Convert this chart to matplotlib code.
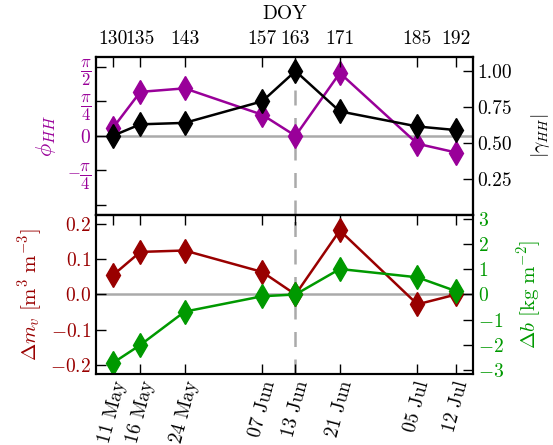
import matplotlib
matplotlib.use('Agg')
import matplotlib.pyplot as plt
import numpy as np

plt.rcParams['font.family'] = 'serif'
plt.rcParams['font.serif'] = ['cmr10', 'DejaVu Serif']
plt.rcParams['mathtext.fontset'] = 'cm'
plt.rcParams['axes.formatter.use_mathtext'] = True
plt.rcParams['font.size'] = 14

# data
doy = [130, 135, 143, 157, 163, 171, 185, 192]
dates = ['11 May', '16 May', '24 May', '07 Jun', '13 Jun', '21 Jun', '05 Jul', '12 Jul']
phi_hh = [0.17, 1.00, 1.08, 0.48, 0.0, 1.43, -0.18, -0.38]
gamma_hh = [0.55, 0.63, 0.64, 0.79, 1.00, 0.72, 0.615, 0.59]
dmv = [0.054, 0.121, 0.125, 0.064, 0.0, 0.182, -0.028, 0.0]
db = [-2.72, -2.0, -0.68, -0.07, 0.0, 1.01, 0.68, 0.13]
ref_doy = 163

c_phi = '#990099'
c_gam = 'black'
c_mv = '#990000'
c_b = '#009900'
c_grey = '#aaaaaa'

fig = plt.figure(figsize=(5.53, 4.45), dpi=100)
ax1 = fig.add_axes([0.1736, 0.5169, 0.855 - 0.1736, 0.8726 - 0.5169])
ax2 = fig.add_axes([0.1736, 0.1596, 0.855 - 0.1736, 0.5169 - 0.1596], sharex=ax1)

tick_kw = dict(direction='in', length=7, width=1.0)
lw = 1.8
mk = dict(marker='d', ms=12.5, markeredgewidth=1)

# top panel
ax1.axhline(0, color=c_grey, lw=1.8, zorder=1)
ax1.axvline(ref_doy, color=c_grey, lw=1.8, ls=(0, (6, 5)), zorder=1)
ax1.plot(doy, phi_hh, color=c_phi, lw=lw, **mk)
ax1.set_ylim(-1.8, 1.8)
ax1.set_yticks([-np.pi / 2, -np.pi / 4, 0, np.pi / 4, np.pi / 2])
ax1.set_yticklabels(['', r'$-\dfrac{\pi}{4}$', r'$0$', r'$\dfrac{\pi}{4}$', r'$\dfrac{\pi}{2}$'])
for t in ax1.get_yticklabels():
    if 'pi' in t.get_text():
        t.set_fontsize(12)
ax1.set_ylabel(r'$\phi_{HH}$', color=c_phi, fontsize=16, labelpad=6)
ax1.tick_params(axis='y', colors='black', labelcolor=c_phi, **tick_kw)
ax1.tick_params(axis='x', bottom=False, labelbottom=False, top=False)

ax1r = ax1.twinx()
ax1r.plot(doy, gamma_hh, color=c_gam, lw=lw, **mk)
ax1r.set_ylim(0, 1.1)
ax1r.set_yticks([0.25, 0.5, 0.75, 1.0])
ax1r.set_yticklabels(['0.25', '0.50', '0.75', '1.00'])
ax1r.set_ylabel(r'$|\gamma_{HH}|$', fontsize=14, labelpad=12)
ax1r.tick_params(axis='y', **tick_kw)

ax1t = ax1.twiny()
ax1t.set_xlim(127, 195)
ax1t.set_xticks(doy)
ax1t.set_xticklabels([str(d) for d in doy])
ax1t.set_xlabel('DOY', labelpad=8)
ax1t.tick_params(axis='x', pad=6, **tick_kw)

# bottom panel
ax2.axhline(0, color=c_grey, lw=1.8, zorder=1)
ax2.axvline(ref_doy, color=c_grey, lw=1.8, ls=(0, (6, 5)), zorder=1)
ax2.plot(doy, dmv, color=c_mv, lw=lw, **mk)
ax2.set_ylim(-0.226, 0.226)
ax2.set_yticks([-0.2, -0.1, 0.0, 0.1, 0.2])
ax2.set_ylabel(r'$\Delta m_v\ [\mathrm{m^3\ m^{-3}}]$', color=c_mv, fontsize=15)
ax2.tick_params(axis='y', labelcolor=c_mv, **tick_kw)
ax2.set_xlim(127, 195)
ax2.set_xticks(doy)
ax2.set_xticklabels(dates, rotation=75, ha='center')
ax2.tick_params(axis='x', top=True, **tick_kw)

ax2r = ax2.twinx()
ax2r.plot(doy, db, color=c_b, lw=lw, **mk)
ax2r.set_ylim(-3.15, 3.15)
ax2r.set_yticks([-3, -2, -1, 0, 1, 2, 3])
ax2r.set_ylabel(r'$\Delta b\ [\mathrm{kg\ m^{-2}}]$', color=c_b, fontsize=15, labelpad=8)
ax2r.tick_params(axis='y', labelcolor=c_b, **tick_kw)

for a in (ax1, ax1r, ax1t, ax2, ax2r):
    for s in a.spines.values():
        s.set_linewidth(1.5)

fig.savefig('out.png', dpi=100)
